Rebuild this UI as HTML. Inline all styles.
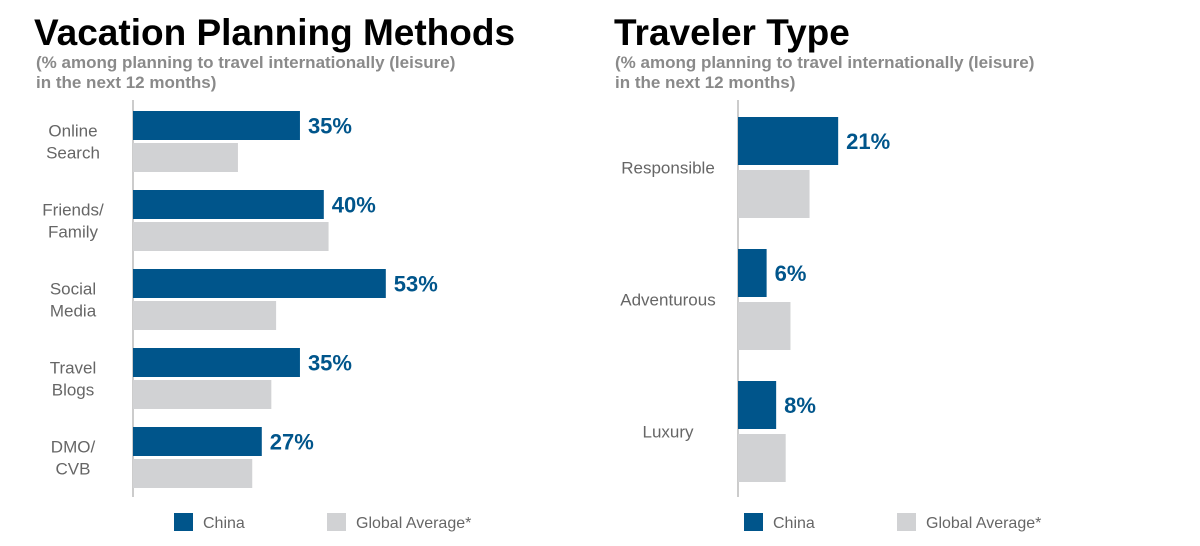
<!DOCTYPE html>
<html><head><meta charset="utf-8"><style>
body{margin:0;background:#fff;width:1200px;height:546px;overflow:hidden;font-family:"Liberation Sans",sans-serif}
svg{display:block}
</style></head><body>
<svg width="1200" height="546">
<text x="34" y="45" font-size="37" font-weight="bold" fill="#000">Vacation Planning Methods</text>
<text x="36" y="68" font-size="17" font-weight="bold" fill="#8a8a8a">(% among planning to travel internationally (leisure)</text>
<text x="36" y="88" font-size="17" font-weight="bold" fill="#8a8a8a">in the next 12 months)</text>
<text x="614" y="45" font-size="37" font-weight="bold" fill="#000">Traveler Type</text>
<text x="615" y="68" font-size="17" font-weight="bold" fill="#8a8a8a">(% among planning to travel internationally (leisure)</text>
<text x="615" y="88" font-size="17" font-weight="bold" fill="#8a8a8a">in the next 12 months)</text>
<g id="left"></g><g id="right"></g>
<g>
<rect x="174" y="513" width="19" height="18" fill="#00558b"/>
<text x="203" y="528" font-size="16" fill="#666">China</text>
<rect x="327" y="513" width="19" height="18" fill="#d1d2d4"/>
<text x="356" y="528" font-size="16" fill="#666">Global Average*</text>
</g>
<g>
<rect x="744" y="513" width="19" height="18" fill="#00558b"/>
<text x="773" y="528" font-size="16" fill="#666">China</text>
<rect x="897" y="513" width="19" height="18" fill="#d1d2d4"/>
<text x="926" y="528" font-size="16" fill="#666">Global Average*</text>
</g>
</svg>
<script>
const leftCategories=[["Online","Search"],["Friends/","Family"],["Social","Media"],["Travel","Blogs"],["DMO/","CVB"]];
const leftChina=[35,40,53,35,27];
const leftGlobal=[22,41,30,29,25];
const rightCategories=["Responsible","Adventurous","Luxury"];
const rightChina=[21,6,8];
const rightGlobal=[15,11,10];
const NS="http://www.w3.org/2000/svg";
function mk(parent,tag,attrs,text){const e=document.createElementNS(NS,tag);for(const k in attrs)e.setAttribute(k,attrs[k]);if(text!=null)e.textContent=text;parent.appendChild(e);return e;}
function draw(gid,cats,china,glob,x0,y0,step,bh,gap,labelX,prefix){
  const g=document.getElementById(gid);
  const sx=v=>v*4.77;
  const ax=mk(g,"line",{x1:x0,x2:x0,y1:100,y2:497,stroke:"#999","stroke-width":1});
  
  
  cats.forEach((c,i)=>{
    const y=y0+i*step;
    const b1=mk(g,"rect",{x:x0,y:y,width:sx(china[i]),height:bh,fill:"#00558b"});
    
    
    const b2=mk(g,"rect",{x:x0,y:y+bh+gap,width:sx(glob[i]),height:bh,fill:"#d1d2d4"});
    
    
    const v=mk(g,"text",{x:x0+sx(china[i])+8,y:y+bh/2+8,"font-size":22,"font-weight":"bold",fill:"#00558b"},china[i]+"%");
    
    
    const mid=y+bh+gap/2;
    const lines=Array.isArray(c)?c:[c];
    lines.forEach((t,j)=>{
      const ty=mid+6+(j-(lines.length-1)/2)*22;
      const l=mk(g,"text",{x:labelX,y:ty,"font-size":17,fill:"#666","text-anchor":"middle"},t);
      
      
    });
  });
}
draw("left",leftCategories,leftChina,leftGlobal,133,111,79,29,3,73,"left");
draw("right",rightCategories,rightChina,rightGlobal,738,117,132,48,5,668,"right");
</script>
</body></html>
